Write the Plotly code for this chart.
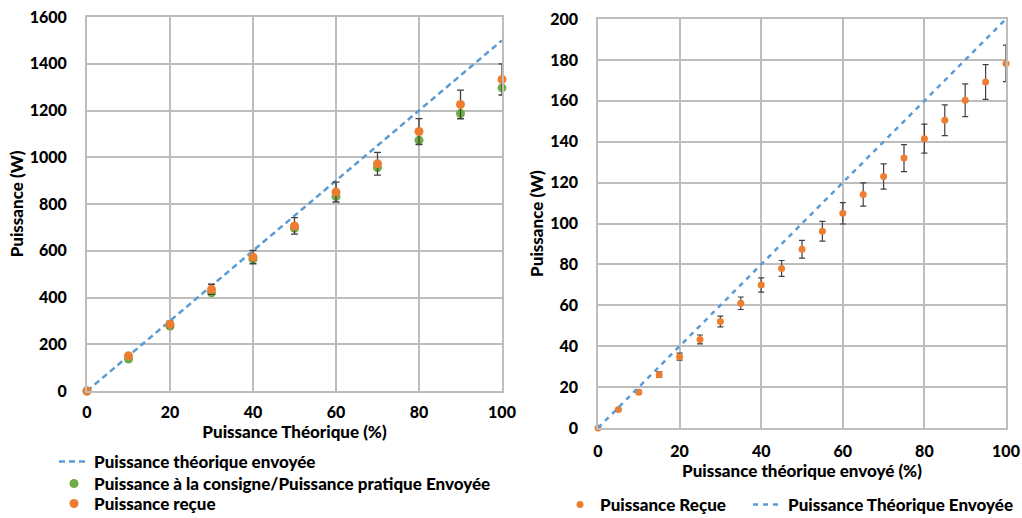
import plotly.graph_objects as go

# ---------------- Data ----------------
# Left chart
left_x = [0, 10, 20, 30, 40, 50, 60, 70, 80, 90, 100]
left_theory = [0, 150, 300, 450, 600, 750, 900, 1050, 1200, 1350, 1500]
left_consigne = [0, 137, 278, 420, 564, 696, 832, 956, 1073, 1187, 1297]
left_recue = [0, 151, 285, 435, 573, 706, 851, 972, 1110, 1226, 1333]
left_err_pct = 5

# Right chart
right_x = [0, 5, 10, 15, 20, 25, 30, 35, 40, 45, 50, 55, 60, 65, 70, 75, 80, 85, 90, 95, 100]
right_recue = [0, 9.0, 17.5, 26.1, 34.9, 43.3, 52.1, 61.0, 69.9, 78.0, 87.4, 96.2,
               105.0, 114.2, 123.0, 132.0, 141.5, 150.5, 160.3, 169.2, 178.3]
right_theory_x = [0, 100]
right_theory = [0, 200]
right_err_pct = 5

left_xticks = [0, 20, 40, 60, 80, 100]
left_yticks = [0, 200, 400, 600, 800, 1000, 1200, 1400, 1600]
right_xticks = [0, 20, 40, 60, 80, 100]
right_yticks = list(range(0, 201, 20))

BLUE = "#5B9BD5"
GREEN = "#70AD47"
ORANGE = "#ED7D31"
ERRC = "#404040"
GRID = "#bdbdbd"
FONT = "Lato"
WEIGHT = 900

W, H = 1022, 518

fig = go.Figure()

# Left traces
fig.add_trace(go.Scatter(
    x=left_x, y=left_theory, mode="lines",
    line=dict(color=BLUE, width=2.5, dash="6px,4px"),
    name="Puissance théorique envoyée", legend="legend",
    xaxis="x", yaxis="y"))
fig.add_trace(go.Scatter(
    x=left_x, y=left_consigne, mode="markers",
    marker=dict(color=GREEN, size=9),
    name="Puissance à la consigne/Puissance pratique Envoyée", legend="legend3",
    cliponaxis=False, xaxis="x", yaxis="y"))
fig.add_trace(go.Scatter(
    x=left_x, y=left_recue, mode="markers",
    marker=dict(color=ORANGE, size=9),
    error_y=dict(type="percent", value=left_err_pct, color=ERRC, thickness=1.3, width=3.5),
    name="Puissance reçue", legend="legend4",
    cliponaxis=False, xaxis="x", yaxis="y"))

# Right traces
fig.add_trace(go.Scatter(
    x=right_x, y=right_recue, mode="markers",
    marker=dict(color=ORANGE, size=7),
    error_y=dict(type="percent", value=right_err_pct, color=ERRC, thickness=1.2, width=3),
    name="Puissance Reçue", legend="legend2",
    cliponaxis=False, xaxis="x2", yaxis="y2"))
fig.add_trace(go.Scatter(
    x=right_theory_x, y=right_theory, mode="lines",
    line=dict(color=BLUE, width=2.5, dash="5px,5px"),
    name="Puissance Théorique Envoyée", legend="legend5",
    xaxis="x2", yaxis="y2"))

tickfont = dict(family=FONT, size=16, color="#000000", weight=WEIGHT)
titlefont = dict(family=FONT, size=17, color="#000000", weight=WEIGHT)
legfont = dict(family=FONT, size=17, color="#000000", weight=WEIGHT)


def ax(domain, rng, ticks, title, gw, anchor, standoff, lstand, automargin):
    return dict(domain=domain, range=rng, tickvals=ticks, ticktext=[str(t) for t in ticks],
                showgrid=True, gridcolor=GRID, gridwidth=gw, zeroline=False,
                showline=True, linecolor=GRID, linewidth=gw, mirror=True,
                tickfont=tickfont, ticks="", anchor=anchor, automargin=automargin,
                title=dict(text=title, font=titlefont, standoff=standoff),
                ticklabelstandoff=lstand, fixedrange=True)


def leg(xpx, ypx):
    return dict(x=xpx / W, y=1 - ypx / H, xanchor="left", yanchor="middle",
                orientation="v", font=legfont, bgcolor="rgba(0,0,0,0)",
                borderwidth=0, itemclick=False, itemdoubleclick=False)


fig.update_layout(
    width=W, height=H,
    margin=dict(l=0, r=0, t=0, b=0, pad=0, autoexpand=False),
    paper_bgcolor="white", plot_bgcolor="white",
    font=dict(family=FONT, size=17, color="#000000", weight=WEIGHT),
    xaxis=ax([87 / W, 502 / W], [0, 100], left_xticks, "Puissance Théorique (%)", 2, "y", 3, 6, True),
    yaxis=ax([1 - 391 / H, 1 - 17 / H], [0, 1600], left_yticks, "Puissance (W)", 2, "x", 2, 15, False),
    xaxis2=ax([598 / W, 1006 / W], [0, 100], right_xticks, "Puissance théorique envoyé (%)", 1.5, "y2", 1, 8, True),
    yaxis2=ax([1 - 428 / H, 1 - 19 / H], [0, 200], right_yticks, "Puissance (W)", 1.5, "x2", 2, 15, False),
    legend=leg(54, 462),
    legend3=leg(54, 484),
    legend4=leg(54, 504),
    legend2=leg(560, 505),
    legend5=leg(748, 505),
    showlegend=True,
)

fig.write_html("out.html", config={"displayModeBar": False},
               post_script="document.body.style.margin='0';")
